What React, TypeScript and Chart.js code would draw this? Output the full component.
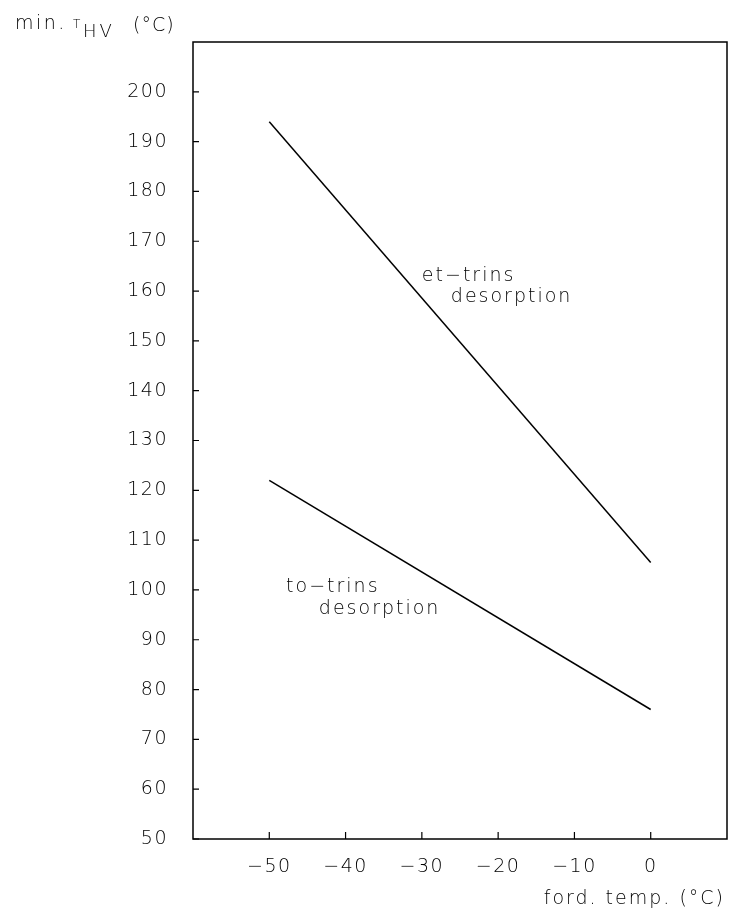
import React, { useEffect, useRef } from "react";
import { Chart, registerables } from "chart.js";

Chart.register(...registerables);

// ---- data ----
const xPoints: number[] = [-50, 0];
const etTrins: number[] = [194, 105.5];
const toTrins: number[] = [122, 76];
const xTickValues: number[] = [-50, -40, -30, -20, -10, 0];
const yTickValues: number[] = [50, 60, 70, 80, 90, 100, 110, 120, 130, 140, 150, 160, 170, 180, 190, 200];
const xTitle = "ford. temp. (°C)";
const yTitleMain = "min.";
const yTitleT = "T";
const yTitleSub = "HV";
const yTitleUnit = "(°C)";
// annotation labels (left aligned, alphabetic baseline) in data units
const annLabels: string[] = ["et\u2212trins", "desorption", "to\u2212trins", "desorption"];
const annX: number[] = [-30.0, -26.2, -47.8, -43.5];
const annY: number[] = [162.0, 157.8, 99.5, 95.2];

const FAM = "'DejaVu Sans', 'Liberation Sans', sans-serif";
const W = "200";
const TICK_SPACING = "1.5px";

const fmt = (v: number) => (v < 0 ? "\u2212" + Math.abs(v) : String(v));

const framePlugin = {
  id: "framePlugin",
  beforeLayout(chart: any) {
    chart.ctx.letterSpacing = TICK_SPACING;
  },
  beforeDraw(chart: any) {
    chart.ctx.letterSpacing = TICK_SPACING;
  },
  afterDraw(chart: any) {
    const { ctx, chartArea } = chart;
    const xs = chart.scales.x;
    const ys = chart.scales.y;
    const { left, right, top, bottom } = chartArea;
    ctx.save();
    ctx.strokeStyle = "#000";
    ctx.lineWidth = 1.5;
    ctx.strokeRect(left, top, right - left, bottom - top);
    ctx.lineWidth = 1.2;
    ctx.beginPath();
    yTickValues.forEach((v) => {
      const py = ys.getPixelForValue(v);
      ctx.moveTo(left, py);
      ctx.lineTo(left + 6, py);
    });
    xTickValues.forEach((v) => {
      const px = xs.getPixelForValue(v);
      ctx.moveTo(px, bottom);
      ctx.lineTo(px, bottom - 7);
    });
    ctx.stroke();

    ctx.fillStyle = "#000";
    ctx.textBaseline = "alphabetic";
    ctx.textAlign = "left";
    // annotations
    ctx.letterSpacing = "2px";
    ctx.font = `${W} 19px ${FAM}`;
    annLabels.forEach((t, i) => {
      ctx.fillText(t, xs.getPixelForValue(annX[i]), ys.getPixelForValue(annY[i]));
    });
    // x title
    const w = ctx.measureText(xTitle).width - 2;
    ctx.fillText(xTitle, 723 - w, 904);
    // y title
    ctx.letterSpacing = "2.5px";
    ctx.font = `${W} 19px ${FAM}`;
    ctx.fillText(yTitleMain, 15, 29);
    ctx.letterSpacing = "0px";
    ctx.font = `${W} 12px ${FAM}`;
    ctx.fillText(yTitleT, 73, 28);
    ctx.letterSpacing = "3px";
    ctx.font = `${W} 18px ${FAM}`;
    ctx.fillText(yTitleSub, 83, 37);
    ctx.letterSpacing = "1px";
    ctx.font = `${W} 19px ${FAM}`;
    ctx.fillText(yTitleUnit, 133, 31);
    ctx.restore();
  },
};

export default function App() {
  const ref = useRef<HTMLCanvasElement | null>(null);
  useEffect(() => {
    document.body.style.margin = "0";
    if (!ref.current) return;
    const chart = new Chart(ref.current, {
      type: "line",
      data: {
        datasets: [
          {
            label: "et-trins desorption",
            data: xPoints.map((x, i) => ({ x, y: etTrins[i] })),
            borderColor: "#000",
            borderWidth: 1.5,
            pointRadius: 0,
            fill: false,
            tension: 0,
          },
          {
            label: "to-trins desorption",
            data: xPoints.map((x, i) => ({ x, y: toTrins[i] })),
            borderColor: "#000",
            borderWidth: 1.5,
            pointRadius: 0,
            fill: false,
            tension: 0,
          },
        ],
      },
      options: {
        animation: false,
        responsive: false,
        maintainAspectRatio: false,
        layout: { padding: { top: 42, right: 2, left: 0, bottom: 0 } },
        plugins: { legend: { display: false }, tooltip: { enabled: false }, title: { display: false } },
        scales: {
          x: {
            type: "linear",
            min: -60,
            max: 10,
            grid: { display: false, drawTicks: false },
            border: { display: false },
            afterBuildTicks: (s: any) => {
              s.ticks = xTickValues.map((v) => ({ value: v }));
            },
            afterFit: (s: any) => {
              s.height = 79;
            },
            ticks: {
              padding: 17,
              color: "#000",
              font: { family: FAM, size: 19, weight: W },
              maxRotation: 0,
              autoSkip: false,
              callback: (v: any) => fmt(Number(v)),
            },
          },
          y: {
            type: "linear",
            min: 50,
            max: 210,
            grid: { display: false, drawTicks: false },
            border: { display: false },
            afterBuildTicks: (s: any) => {
              s.ticks = yTickValues.map((v) => ({ value: v }));
            },
            afterFit: (s: any) => {
              s.width = 193;
            },
            ticks: {
              padding: 25,
              color: "#000",
              font: { family: FAM, size: 19, weight: W },
              autoSkip: false,
              callback: (v: any) => fmt(Number(v)),
            },
          },
        },
      },
      plugins: [framePlugin],
    });
    return () => chart.destroy();
  }, []);
  return (
    <div style={{ position: "absolute", left: 0, top: 0, width: 729, height: 918, background: "#fff" }}>
      <canvas ref={ref} width={729} height={918} style={{ display: "block" }} />
    </div>
  );
}
